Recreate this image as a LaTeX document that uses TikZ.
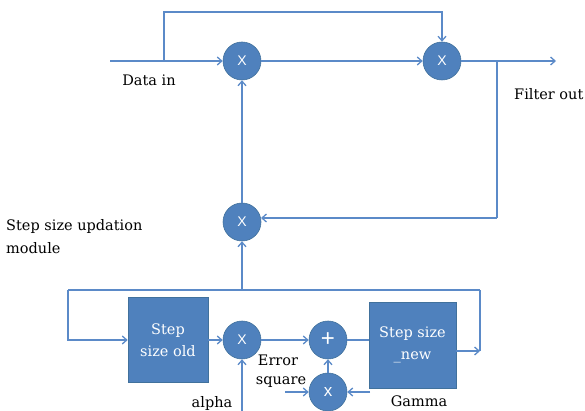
\documentclass[tikz,border=0pt]{standalone}
\usepackage{fontspec}
\setmainfont{DejaVu Serif}
\newfontfamily\xfont{Liberation Sans}
\usetikzlibrary{arrows.meta}
\definecolor{cfill}{HTML}{4F81BD}
\definecolor{cedge}{HTML}{41719C}
\definecolor{lcol}{HTML}{5B8AC8}
\tikzset{
  mul/.style={circle,fill=cfill,draw=cedge,line width=0.6pt,minimum size=38pt,inner sep=0pt,text=white,font=\xfont\fontsize{14}{14}\selectfont},
  blk/.style={rectangle,fill=cfill,draw=cedge,line width=0.6pt,inner sep=0pt,text=white,align=center,font=\fontsize{14.5}{22}\selectfont},
  wire/.style={draw=lcol,line width=1.3pt},
  arr/.style={wire,-{Straight Barb[length=4.5pt,width=8pt]}},
  lbl/.style={inner sep=0pt,text=black,font=\fontsize{14.5}{23}\selectfont}
}
\begin{document}
\begin{tikzpicture}[x=1pt,y=-1pt]
\useasboundingbox (0,0) rectangle (585,411);
% nodes
\node[mul] (c1) at (242,61) {X};
\node[mul] (c2) at (442,61) {X};
\node[mul] (c3) at (242,222) {X};
\node[mul] (c4) at (242,340) {X};
\node[mul,font=\xfont\fontsize{24}{24}\selectfont] (cp) at (328,340) {+};
\node[mul,font=\xfont\fontsize{17}{17}\selectfont] (c5) at (328,392) {x};
\node[blk,minimum width=80pt,minimum height=85pt] (b1) at (168,340) {Step\\size old};
\node[blk,minimum width=87pt,minimum height=86pt] (b2) at (412.5,345) {Step size\\\_new};
% coordinates
\coordinate (din) at (110,61);
\coordinate (tap1) at (164,61);
\coordinate (top) at (164,12);
\coordinate (out) at (556,61);
\coordinate (tap2) at (497,61);
\coordinate (fb) at (497,218);
\coordinate (fbin) at (261,218);
\coordinate (lt) at (242,290);
\coordinate (ll) at (68,290);
\coordinate (lr) at (480,290);
\coordinate (lin) at (68,340);
\coordinate (rin) at (480,351);
\coordinate (b2out) at (455.5,351);
\coordinate (alpha) at (242,411);
\coordinate (eq) at (285,392);
\coordinate (gm) at (370,392);
% connectors
\draw[arr] (din) -- (c1);
\draw[arr] (tap1) -- (top) -| (c2);
\draw[arr] (c1) -- (c2);
\draw[arr] (c2) -- (out);
\draw[wire] (tap2) -- (fb);
\draw[arr] (fb) -- (fbin);
\draw[arr] (c3) -- (c1);
\draw[arr] (lt) -- (c3);
\draw[wire] (ll) -- (lr);
\draw[arr] (ll) -- (lin) -- (b1.west |- lin);
\draw[wire] (lr) -- (rin);
\draw[arr] (b2out) -- (rin);
\draw[arr] (b1) -- (c4);
\draw[arr] (c4) -- (cp);
\draw[wire] (cp) -- (cp -| b2.west);
\draw[arr] (c5) -- (cp);
\draw[arr] (eq) -- (c5);
\draw[arr] (gm) -- (c5);
\draw[arr] (alpha) -- (c4);
% labels
\node[lbl] at (149,80) {Data in};
\node[lbl,anchor=west] at (514,94) {Filter out};
\node[lbl,anchor=west,align=left] at (6,237) {Step size updation\\module};
\node[lbl] at (278,360) {Error};
\node[lbl] at (281,382) {square};
\node[lbl] at (212,403) {alpha};
\node[lbl] at (419,401) {Gamma};
\end{tikzpicture}
\end{document}
